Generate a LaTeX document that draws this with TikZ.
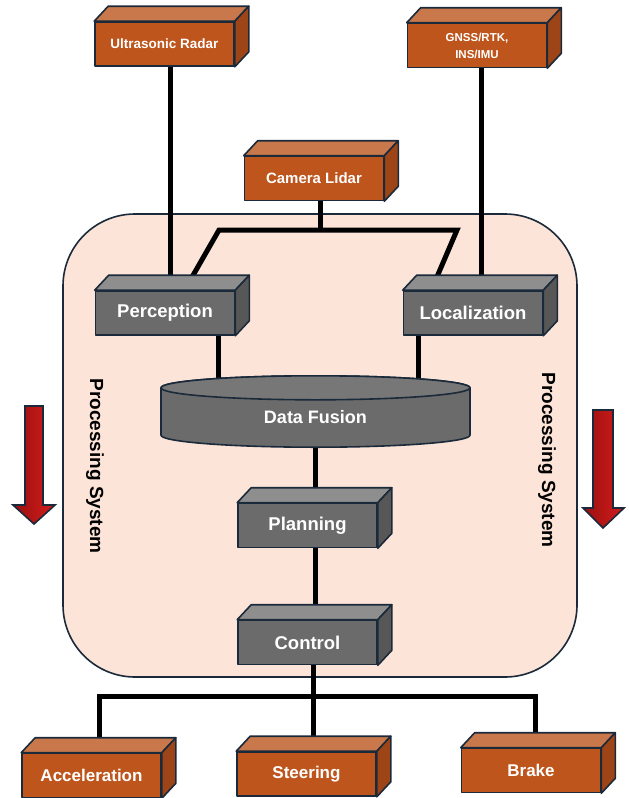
\documentclass[tikz,border=0pt]{standalone}
\usepackage{fontspec}
\setmainfont{Liberation Sans}
\usetikzlibrary{calc}

\definecolor{rust}{HTML}{BD551C}
\definecolor{rusttop}{HTML}{C8784A}
\definecolor{rustside}{HTML}{9E4517}
\definecolor{slate}{HTML}{6B6B6B}
\definecolor{slatetop}{HTML}{8E8E8E}
\definecolor{slateside}{HTML}{575757}
\definecolor{ink}{HTML}{1B2A3A}
\definecolor{peach}{HTML}{FCE4D8}
\definecolor{alarmdark}{HTML}{9A1010}
\definecolor{alarmlight}{HTML}{D41C1C}

\pgfdeclarelayer{back}
\pgfdeclarelayer{wires}
\pgfdeclarelayer{body}
\pgfsetlayers{back,wires,body,main}

\tikzset{
  edge/.style={draw=ink, line width=1.6pt, line join=round},
  block/.style={edge, rectangle, minimum width=139pt, minimum height=44pt,
    inner sep=0pt, text=white, align=center},
  rustbox/.style={block, fill=rust},
  slatebox/.style={block, fill=slate, font=\bfseries\fontsize{18.5}{20}\selectfont},
  wire/.style={line width=5pt, black, line join=miter},
  sidelabel/.style={font=\bfseries\fontsize{19}{19}\selectfont, text=black, rotate=-90},
  downarrow/.style={draw=ink, line width=1.6pt, line join=miter,
    left color=alarmdark, right color=alarmlight},
}

% top and right faces of a cuboid whose front face is the node #1
\newcommand\boxfaces[3]{%
  \draw[edge, fill=#2] (#1.north west) -- ++(14pt,15pt)
    -- ($(#1.north east)+(14pt,15pt)$) -- (#1.north east) -- cycle;
  \draw[edge, fill=#3] (#1.north east) -- ++(14pt,15pt)
    -- ($(#1.south east)+(14pt,15pt)$) -- (#1.south east) -- cycle;
}

\begin{document}
\begin{tikzpicture}[x=1pt, y=1pt]
\useasboundingbox (0,0) rectangle (629,-798);

% processing region
\begin{pgfonlayer}{back}
  \draw[edge, fill=peach, rounded corners=72pt] (63,-214) rectangle (577,-677);
\end{pgfonlayer}

% sensor blocks
\node[rustbox, font=\bfseries\fontsize{13.5}{15}\selectfont] (ultra) at (164.5,-44) {Ultrasonic Radar};
\node[rustbox, font=\bfseries\fontsize{11.5}{17}\selectfont] (gnss) at (477,-45.5) {GNSS/RTK,\\INS/IMU};
\node[rustbox, font=\bfseries\fontsize{15}{17}\selectfont] (cam) at (314,-178.5) {Camera Lidar};
\boxfaces{ultra}{rusttop}{rustside}
\boxfaces{gnss}{rusttop}{rustside}
\boxfaces{cam}{rusttop}{rustside}

% processing blocks
\node[slatebox] (perc) at (165,-313) {Perception};
\node[slatebox] (loc) at (473,-313) {Localization};
\node[slatebox] (plan) at (307.5,-525.5) {Planning};
\node[slatebox] (ctrl) at (307.5,-642.5) {Control};
\boxfaces{perc}{slatetop}{slateside}
\boxfaces{loc}{slatetop}{slateside}
\boxfaces{plan}{slatetop}{slateside}
\boxfaces{ctrl}{slatetop}{slateside}

% fusion drum
\node[font=\bfseries\fontsize{18}{20}\selectfont, text=white, minimum width=309pt,
  minimum height=59pt, inner sep=0pt] (fusion) at (315.5,-417.5) {Data Fusion};
\coordinate (fusionbase) at ($(fusion.south)+(0,12)$);
\begin{pgfonlayer}{body}
  \draw[edge, fill=slate] ([xshift=-154.5pt]fusion.north) -- ([xshift=-154.5pt]fusionbase)
    arc[start angle=180, end angle=360, x radius=154.5pt, y radius=12pt]
    -- ([xshift=154.5pt]fusion.north)
    arc[start angle=0, end angle=180, x radius=154.5pt, y radius=12pt] -- cycle;
  \draw[edge, fill=slate!92!white] (fusion.north) ellipse[x radius=154.5pt, y radius=12pt];
\end{pgfonlayer}

% actuator blocks
\node[rustbox, font=\bfseries\fontsize{17}{19}\selectfont] (accel) at (91.5,-775.5) {Acceleration};
\node[rustbox, font=\bfseries\fontsize{17}{19}\selectfont] (steer) at (306.5,-774) {Steering};
\node[rustbox, font=\bfseries\fontsize{17}{19}\selectfont] (brake) at (531,-770.5) {Brake};
\boxfaces{accel}{rusttop}{rustside}
\boxfaces{steer}{rusttop}{rustside}
\boxfaces{brake}{rusttop}{rustside}

% connectors
\coordinate (camL) at (219,-230);
\coordinate (camR) at (457,-230);
\coordinate (percIn) at (187.5,-285);
\coordinate (locIn) at (433.5,-285);
\coordinate (busY) at (0,-696);
\begin{pgfonlayer}{wires}
  \draw[wire] ([xshift=5.5pt]ultra.south) -- ([xshift=5.5pt]ultra.south |- perc.north);
  \draw[wire] ([xshift=4pt]gnss.south) -- ([xshift=4pt]gnss.south |- loc.north);
  \draw[wire] ([xshift=6pt]cam.south) -- ([xshift=6pt]cam.south |- camL);
  \draw[wire] (percIn) -- (camL) -- (camR) -- (locIn);
  \draw[wire] ([xshift=53pt]perc.south) -- ([xshift=53pt]perc.south |- fusion.north);
  \draw[wire] ([xshift=-55pt]loc.south) -- ([xshift=-55pt]loc.south |- fusion.north);
  \draw[wire] (fusion.south) -- (fusion.south |- plan.north);
  \draw[wire] ([xshift=7.5pt]plan.south) -- ([xshift=7.5pt]ctrl.north);
  \draw[wire] ([xshift=5.5pt]ctrl.south) -- ([xshift=5.5pt]ctrl.south |- steer.north);
  \draw[wire] ([xshift=7.5pt]accel.north) -- ([xshift=7.5pt]accel.north |- busY)
    -- ([xshift=4pt]brake.north |- busY) -- ([xshift=4pt]brake.north);
\end{pgfonlayer}

% flow direction
\node[sidelabel] (flowL) at (95,-466) {Processing System};
\node[sidelabel] (flowR) at (547,-460) {Processing System};
\draw[downarrow] (25,-406) -- (43,-406) -- (43,-505) -- (55,-505) -- (34,-524)
  -- (13,-505) -- (25,-505) -- cycle;
\draw[downarrow] (593,-410) -- (613,-410) -- (613,-508) -- (624,-508) -- (603,-528)
  -- (583,-508) -- (593,-508) -- cycle;
\end{tikzpicture}
\end{document}
